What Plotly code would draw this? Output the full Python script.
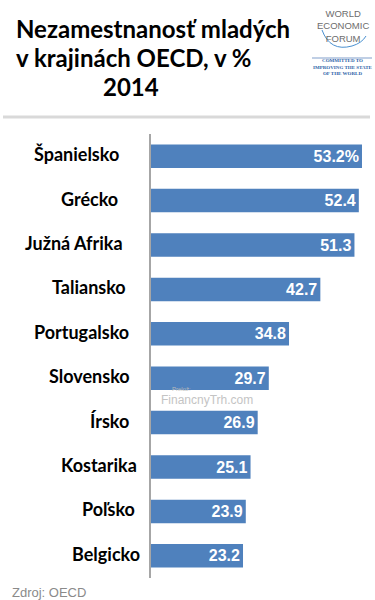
import plotly.graph_objects as go

countries = ["Španielsko", "Grécko", "Južná Afrika", "Taliansko", "Portugalsko",
             "Slovensko", "Írsko", "Kostarika", "Poľsko", "Belgicko"]
values = [53.2, 52.4, 51.3, 42.7, 34.8, 29.7, 26.9, 25.1, 23.9, 23.2]
value_labels = ["53.2%", "52.4", "51.3", "42.7", "34.8", "29.7", "26.9", "25.1", "23.9", "23.2"]
# right edge (px) of each category label, as laid out in the original
label_right_px = [121, 120, 125, 128, 131, 132, 131, 139, 137, 142]

W, H = 375, 600
L, R, T, B = 151, 5, 134, 22
px_per_unit = 3.966
xmax = (W - L - R) / px_per_unit

fig = go.Figure(go.Bar(
    x=values, y=countries, orientation="h",
    marker=dict(color="#4F81BD", line=dict(width=0)),
    text=value_labels, textposition="inside", insidetextanchor="end",
    textfont=dict(family="Liberation Sans, Arial", size=16, color="white"),
    texttemplate="<b>%{text}</b>", cliponaxis=False,
    width=0.53, hoverinfo="skip",
))

fig.update_layout(
    width=W, height=H, margin=dict(l=L, r=R, t=T, b=B),
    paper_bgcolor="white", plot_bgcolor="white",
    showlegend=False, uniformtext=dict(minsize=16, mode="show"),
    xaxis=dict(range=[0, xmax], visible=False, fixedrange=True),
    yaxis=dict(autorange="reversed", showline=True, linecolor="#A6A6A6", linewidth=1.5,
               ticks="", showgrid=False, showticklabels=False, automargin=False,
               fixedrange=True),
)

def px(x):
    return (x - L) / (W - L - R)

def py(y):
    return 1 - (y - T) / (H - T - B)

def add_text(text, x, y, size, color, family="Liberation Sans, Arial", anchor="center"):
    fig.add_annotation(text=text, x=px(x), y=py(y), xref="paper", yref="paper",
                       xanchor=anchor, yanchor="middle", showarrow=False,
                       font=dict(family=family, size=size, color=color))

lato = "Lato, Open Sans"

# category labels
for c, rx in zip(countries, label_right_px):
    fig.add_annotation(text=f"<b>{c}</b>", x=px(rx), xref="paper", y=c, yref="y",
                       xanchor="right", yanchor="middle", yshift=2, showarrow=False,
                       font=dict(family=lato, size=18, color="black"))

# title
add_text("<b>Nezamestnanosť mladých</b>", 14, 28, 24, "black", family=lato, anchor="left")
add_text("<b>v krajinách OECD, v %</b>", 14, 58, 24, "black", family=lato, anchor="left")
add_text("<b>2014</b>", 131, 86, 24, "black", family=lato)

# WEF logo text
add_text("WORLD<br>ECONOMIC<br>FORUM", 343, 26, 9.5, "#6d6d6d")
serif = "Liberation Serif, Times New Roman"
add_text("<b>COMMITTED TO<br>IMPROVING THE STATE<br>OF THE WORLD</b>", 343, 67, 5, "#2b5fa8", family=serif)

# watermark
add_text("Prelož:", 170, 389, 6, "#bbbbbb", anchor="left")
add_text("FinancnyTrh.com", 159, 400, 12, "#c4c4c4", anchor="left")

# source
add_text("Zdroj: OECD", 10, 592, 13, "#8a8a8a", anchor="left")

# separator line
fig.add_shape(type="line", xref="paper", yref="paper", x0=px(3), x1=px(370), y0=py(117), y1=py(117),
              line=dict(color="#d9d9d9", width=3))
# logo divider
fig.add_shape(type="line", xref="paper", yref="paper", x0=px(312), x1=px(372), y0=py(58), y1=py(58),
              line=dict(color="#2b5fa8", width=0.6))
# logo swoosh
fig.add_shape(type="path", xref="paper", yref="paper",
              path=f"M {px(322)},{py(30)} Q {px(330)},{py(52)} {px(352)},{py(46)} Q {px(362)},{py(43)} {px(366)},{py(36)}",
              line=dict(color="#4a90d0", width=1))

fig.write_html("out.html", config={"displayModeBar": False},
               post_script="document.body.style.margin='0';document.body.style.overflow='hidden';")
